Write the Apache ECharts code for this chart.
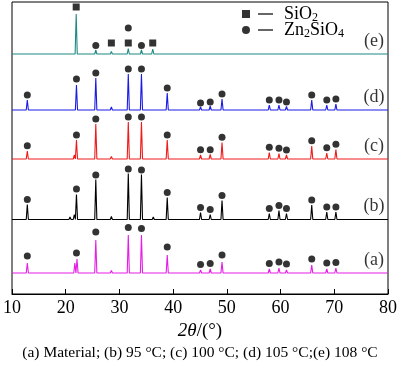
<!DOCTYPE html>
<html><head><meta charset="utf-8">
<script src="https://cdn.jsdelivr.net/npm/echarts@6/dist/echarts.min.js"></script>
<style>html,body{margin:0;padding:0;background:#fff}#c{width:400px;height:366px}</style>
</head><body><div id="c"></div>
<script>
// ---- data (2θ in degrees, intensity in a.u.) ----
const seriesNames = ['(a)', '(b)', '(c)', '(d)', '(e)'];
const captionText = '(a) Material; (b) 95 °C; (c) 100 °C; (d) 105 °C;(e) 108 °C';
const xTickMin = 10, xTickMax = 80, xTickStep = 10;
// vertical stacking offsets of each pattern
const offsets = [21, 74.5, 135, 184, 240];
// peaks: [2θ, intensity above baseline]
const peaksA = [[12.85,10],[20.8,2],[21.7,10],[22.1,14],[25.6,33],[27.4,2],[28.5,2.5],[31.65,38],[34.1,38],[36.3,2],[38.9,18],[42.2,1.5],[45.1,3],[46.9,4],[49.1,11],[54.3,1.5],[56.0,1.5],[57.9,4],[59.7,5],[61.1,3],[65.8,8],[67.2,1],[68.6,4],[70.3,5],[72.3,1.5],[75.0,1],[78.5,1.5]];
const peaksB = [[12.85,15],[20.8,2.5],[21.6,5],[22.0,25],[25.6,40],[27.4,2],[28.5,3],[31.65,46],[34.1,45],[36.3,2.5],[38.9,22],[42.2,1.5],[45.1,7],[46.9,5],[49.1,19],[54.3,1.5],[56.0,1.5],[57.9,6],[59.7,9],[61.1,6],[65.8,14.5],[67.2,1],[68.6,7.5],[70.3,7.5],[72.3,1.5],[75.0,1],[78.5,1.5]];
const peaksC = [[12.85,8],[20.8,2],[21.6,4],[22.0,19],[25.6,35],[27.4,2],[28.5,2.5],[31.65,37],[34.1,37],[36.3,2],[38.9,19],[42.2,1.5],[45.1,4],[46.9,4.5],[49.1,16.5],[54.3,1.5],[56.0,1.5],[57.9,6.5],[59.7,5.5],[61.1,4],[65.8,13],[67.2,1],[68.6,6],[70.3,9.5],[72.3,1.5],[75.0,1],[78.5,1.5]];
const peaksD = [[12.85,10],[20.8,2],[22.0,25],[25.6,32],[27.4,2],[28.5,3],[31.65,36],[34.1,36],[36.3,2],[38.9,17],[42.2,1.5],[45.1,3],[46.9,4],[49.1,11],[54.3,1.5],[56.0,1.5],[57.9,5],[59.7,5],[61.1,3.5],[65.8,10],[67.2,1],[68.6,5],[70.3,6],[72.3,1.5],[75.0,1],[78.5,1]];
const peaksE = [[12.8,1],[20.6,1.5],[21.95,40],[25.6,4],[28.5,2.5],[31.65,5.5],[34.1,4],[36.2,5],[38.9,1.5],[42.5,1],[45.8,1],[48.9,1.5],[50.1,1],[54.3,1.5],[57.0,1],[60.0,1],[61.6,1.5],[64.5,1],[68.0,1],[72.0,1],[75.0,1]];
// phase markers: [2θ, height above baseline]
const znMarksA = [[12.85,17],[22.0,20],[25.6,41],[31.65,45.5],[34.1,44.5],[38.9,26],[45.1,8.5],[46.9,9.5],[49.1,18],[57.9,9.5],[59.7,11],[61.1,9],[65.8,14],[68.6,10],[70.3,10.5]];
const znMarksB = [[12.85,20],[22.0,30.5],[25.6,44.5],[31.65,50.5],[34.1,49.5],[38.9,27],[45.1,12],[46.9,10],[49.1,24],[57.9,11],[59.7,14],[61.1,11],[65.8,19.5],[68.6,12.5],[70.3,12.5]];
const znMarksC = [[12.85,13.3],[22.0,24],[25.6,40],[31.65,42],[34.1,42],[38.9,24],[45.1,9.3],[46.9,9.3],[49.1,21.7],[57.9,11.7],[59.7,10.7],[61.1,9],[65.8,18.3],[68.6,11.3],[70.3,14.7]];
const znMarksD = [[12.85,15],[22.0,31],[25.6,37],[31.65,41],[34.1,41],[38.9,22],[45.1,7],[46.9,8],[49.1,16],[57.9,10],[59.7,10],[61.1,8],[65.8,15],[68.6,10],[70.3,11]];
const znMarksE = [[25.6,8.5],[31.65,26],[34.1,8.5]];
const sioMarksE = [[21.95,47],[28.5,11],[31.65,11],[36.2,11]];
const labelPos2Theta = 77.4;

// ---- styles ----
const serif = "'Liberation Serif','Times New Roman',serif";
const colors = ['#e51ee5', '#000000', '#ee1b1b', '#1b1be6', '#1f8a82'];
const allPeaks = [peaksA, peaksB, peaksC, peaksD, peaksE];
const allZn = [znMarksA, znMarksB, znMarksC, znMarksD, znMarksE];
const halfWidth = 0.2;

function profile(peaks, off) {
  const pts = [[xTickMin, off]];
  peaks.forEach(([x, h]) => { pts.push([x - halfWidth, off], [x, off + h], [x + halfWidth, off]); });
  pts.push([xTickMax, off]);
  return pts;
}

const series = [];
allPeaks.forEach((pk, i) => {
  series.push({
    type: 'line', name: seriesNames[i], data: profile(pk, offsets[i]),
    showSymbol: false, symbol: 'none', lineStyle: { width: 1.1, color: colors[i] },
    itemStyle: { color: colors[i] }, z: 2, animation: false
  });
});
const znData = [];
allZn.forEach((m, i) => m.forEach(([x, h]) => znData.push([x, offsets[i] + h])));
series.push({ type: 'scatter', name: 'Zn2SiO4', data: znData, symbol: 'circle', symbolSize: 7,
  itemStyle: { color: '#000' }, z: 3, animation: false });
series.push({ type: 'scatter', name: 'SiO2', data: sioMarksE.map(([x, h]) => [x, offsets[4] + h]),
  symbol: 'rect', symbolSize: 7, itemStyle: { color: '#000' }, z: 3, animation: false });
series.push({ type: 'scatter', name: 'labels', symbolSize: 0, animation: false, silent: true,
  data: seriesNames.map((n, i) => [labelPos2Theta, offsets[i] + 13, n]),
  label: { show: true, position: 'inside', formatter: p => p.data[2], fontFamily: serif, fontSize: 18, color: '#000' } });

const chart = echarts.init(document.getElementById('c'), null, { renderer: 'canvas' });
chart.setOption({
  backgroundColor: '#fff',
  animation: false,
  grid: { left: 5, right: 10, top: 2, bottom: 72, show: true, borderColor: '#000', borderWidth: 1 },
  xAxis: {
    type: 'value', min: xTickMin, max: xTickMax, interval: xTickStep,
    axisLine: { show: true, lineStyle: { color: '#000', width: 1 } },
    axisTick: { show: true, inside: true, length: 5, lineStyle: { color: '#000' } },
    axisLabel: { fontFamily: serif, fontSize: 18, color: '#000', margin: 5 },
    splitLine: { show: false },
    name: '{i|2θ}/(°)', nameLocation: 'middle', nameGap: 24,
    nameTextStyle: { fontFamily: serif, fontSize: 19, color: '#000', rich: { i: { fontFamily: serif, fontSize: 19, fontStyle: 'italic', color: '#000' } } }
  },
  yAxis: { type: 'value', min: 0, max: 292, show: false },
  legend: {
    orient: 'vertical', left: 237, top: 0, itemWidth: 31, itemHeight: 8, itemGap: -3,
    data: [
      { name: 'SiO2', icon: 'path://M0,0h8v8h-8z M16,3.2h15v1.6h-15z' },
      { name: 'Zn2SiO4', icon: 'path://M8,4a4,4 0 1,1 -8,0a4,4 0 1,1 8,0z M16,3.2h15v1.6h-15z' }
    ],
    formatter: n => n === 'SiO2' ? 'SiO{s|2}' : 'Zn{s|2}SiO{s|4}',
    textStyle: { fontFamily: serif, fontSize: 18, color: '#000', padding: [0, 0, 0, 6],
      rich: { s: { fontFamily: serif, fontSize: 12, color: '#000', padding: [8, 0, 0, 0] } } }
  },
  graphic: [{ type: 'text', left: 'center', top: 345,
    style: { text: captionText, font: '15.5px ' + serif, fill: '#000' } }],
  series: series
});
</script></body></html>
